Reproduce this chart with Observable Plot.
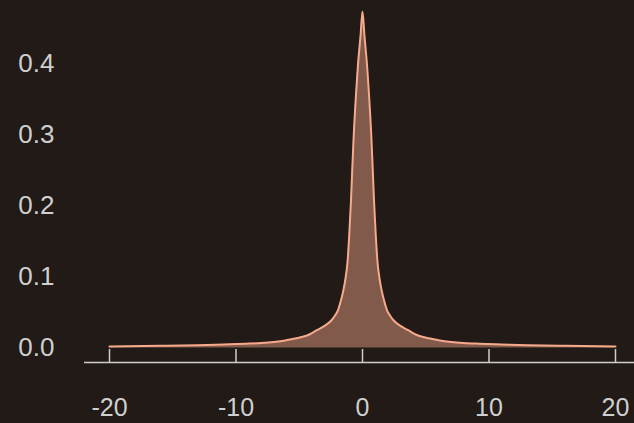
<!DOCTYPE html>
<html>
<head>
<meta charset="utf-8">
<script src="https://cdn.jsdelivr.net/npm/d3@7"></script>
<script src="https://cdn.jsdelivr.net/npm/@observablehq/plot@0.6"></script>
<style>
  html, body { margin: 0; padding: 0; background: #211a16; }
  #chart { width: 634px; height: 423px; overflow: hidden; }
</style>
</head>
<body>
<div id="chart"></div>
<script>
// Density curve (symmetric about 0)
const xs = [-20, -16, -13, -11, -9.2, -8, -7, -6, -4.9, -4.2, -3.6, -3, -2.45, -2.2, -1.94, -1.7, -1.5, -1.35, -1.19, -1.05, -0.91, -0.8, -0.69, -0.5, -0.37, -0.15, 0,
            0.15, 0.37, 0.5, 0.69, 0.8, 0.91, 1.05, 1.19, 1.35, 1.5, 1.7, 1.94, 2.2, 2.45, 3, 3.6, 4.2, 4.9, 6, 7, 8, 9.2, 11, 13, 16, 20];
const ys = [0.002, 0.003, 0.004, 0.005, 0.006, 0.007, 0.0085, 0.011, 0.015, 0.019, 0.025, 0.031, 0.039, 0.045, 0.053, 0.067, 0.082, 0.097, 0.120, 0.158, 0.207, 0.255, 0.300, 0.360, 0.395, 0.440, 0.473,
            0.440, 0.395, 0.360, 0.300, 0.255, 0.207, 0.158, 0.120, 0.097, 0.082, 0.067, 0.053, 0.045, 0.039, 0.031, 0.025, 0.019, 0.015, 0.011, 0.0085, 0.007, 0.006, 0.005, 0.004, 0.003, 0.002];
const xTicks = [-20, -10, 0, 10, 20];
const yTicks = [0.0, 0.1, 0.2, 0.3, 0.4];

const data = xs.map((x, i) => ({x, y: ys[i]}));

const lineColor = "#f7a98c";
const textColor = "#cfcfcf";

const chart = Plot.plot({
  width: 634,
  height: 423,
  marginLeft: 84,
  marginRight: 0,
  marginTop: 6,
  marginBottom: 61,
  style: {background: "transparent", color: textColor, fontFamily: "'Liberation Sans', Arial, sans-serif"},
  x: {domain: [-20, 20], insetLeft: 25, insetRight: 19},
  y: {domain: [0, 0.48], insetBottom: 14.5},
  marks: [
    Plot.areaY(data, {x: "x", y: "y", fill: lineColor, fillOpacity: 0.45, curve: "monotone-x"}),
    Plot.lineY(data, {x: "x", y: "y", stroke: lineColor, strokeWidth: 2, curve: "monotone-x"}),
    Plot.ruleY([0], {dy: 14.5, stroke: textColor, strokeWidth: 1.5}),
    Plot.axisX(xTicks, {tickSize: 13, dy: -13, fill: null, stroke: textColor, strokeWidth: 1.5, label: null}),
    Plot.axisX(xTicks, {tickSize: 0, tickPadding: 36, fontSize: 25, fill: textColor, tickFormat: d => String(d), label: null}),
    Plot.axisY(yTicks, {tickSize: 0, tickPadding: 30, fontSize: 26, fill: textColor, tickFormat: d3.format(".1f"), label: null})
  ]
});
document.getElementById("chart").appendChild(chart);
</script>
</body>
</html>
